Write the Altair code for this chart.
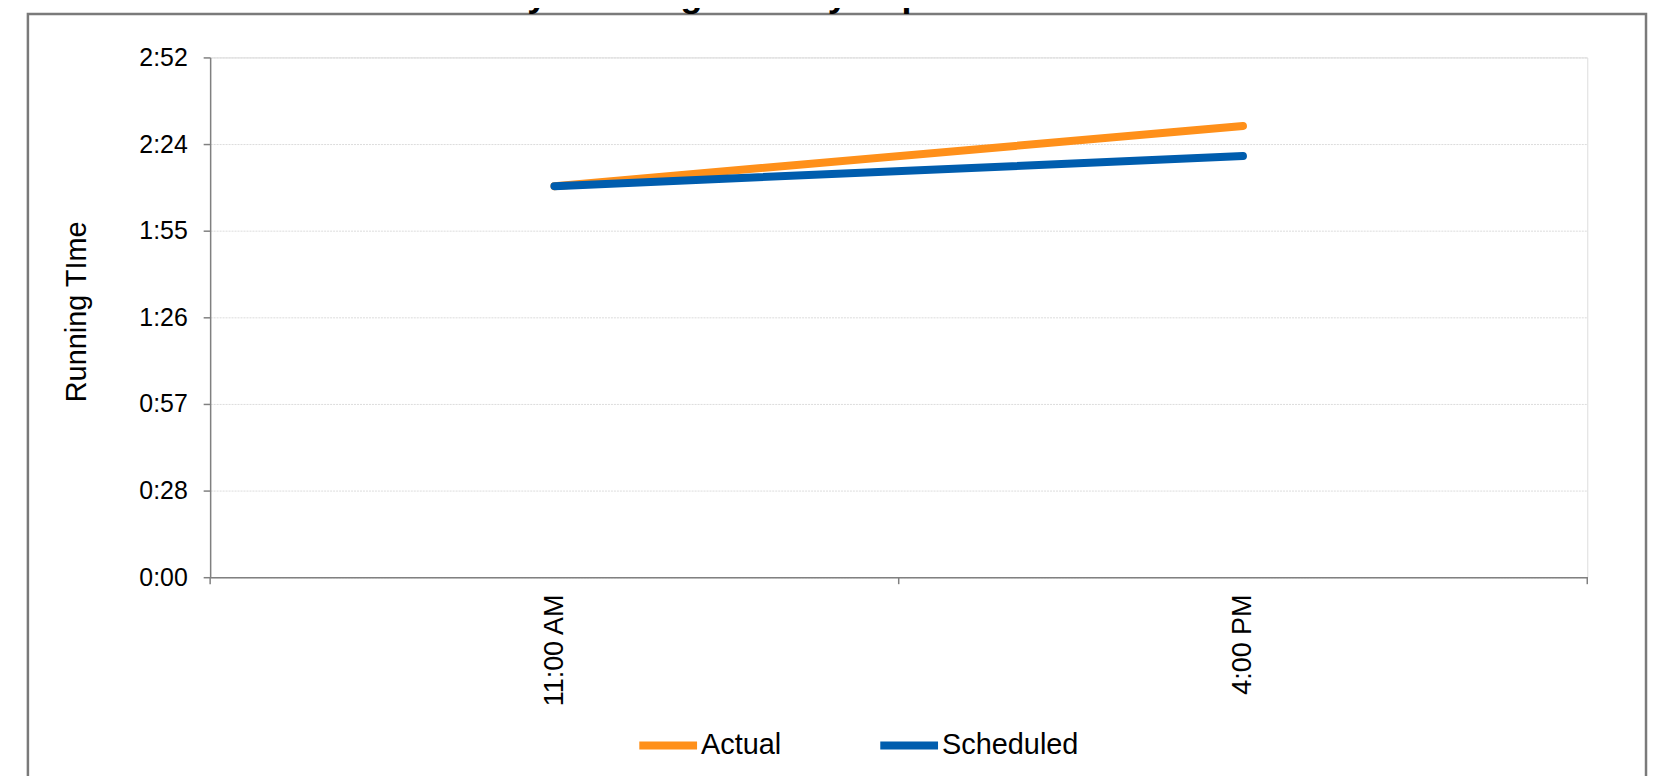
import altair as alt
import pandas as pd

# ---- data (minutes) ----
times = ["11:00 AM", "4:00 PM"]
series_names = ["Actual", "Scheduled"]
actual = [130, 150]
scheduled = [130, 140]
y_ticks = [0, 28.8, 57.6, 86.4, 115.2, 144, 172.8]   # 0.02-day steps
boundaries = [0, 1, 2]
colors = ["#FF901A", "#005DAE"]
title_text = "Saturday Running TIme by Trip - Westbound"

rows = []
for i, t in enumerate(times):
    rows.append({"time": t, "pos": i + 0.5, "series": "Actual", "minutes": actual[i]})
for i, t in enumerate(times):
    rows.append({"time": t, "pos": i + 0.5, "series": "Scheduled", "minutes": scheduled[i]})
df = pd.DataFrame(rows)

W, H = 1383, 522
FONT = "Liberation Sans"

labels_js = "[" + ",".join("'" + t + "'" for t in times) + "]"

x_scale = alt.Scale(domain=[0, len(times)], nice=False, zero=False)
y_scale = alt.Scale(domain=[0, y_ticks[-1]], nice=False, zero=True)

y_label_expr = ("floor(datum.value/60) + ':' + (floor(datum.value%60) < 10 ? '0' : '') "
                "+ floor(datum.value%60)")

x_axis = alt.Axis(values=[i + 0.5 for i in range(len(times))],
                  labelExpr=labels_js + "[floor(datum.value)]",
                  ticks=False, tickSize=0, labelAngle=-90, labelAlign="right",
                  labelBaseline="middle", labelPadding=17, grid=False, title=None,
                  labelFontSize=27, labelFont=FONT, labelColor="#000000",
                  labelOverlap=False,
                  domainColor="#808080", domainWidth=1.5)

border = alt.Chart(pd.DataFrame({"k": [0]})).mark_rect(
    fill="transparent", stroke="#7a7a7a", strokeWidth=2.5
).encode(
    x=alt.value(-183), x2=alt.value(1442),
    y=alt.value(-43.5), y2=alt.value(800),
)

lines = alt.Chart(df).mark_line(strokeWidth=8, strokeCap="round", strokeJoin="round").encode(
    x=alt.X("pos:Q", scale=x_scale, axis=x_axis),
    y=alt.Y("minutes:Q", scale=y_scale,
            axis=alt.Axis(values=y_ticks, labelExpr=y_label_expr, tickSize=7,
                          tickColor="#808080", tickWidth=1.5, labelPadding=16,
                          labelFontSize=25, labelFont=FONT, labelColor="#000000",
                          domainColor="#808080", domainWidth=1.5,
                          grid=True, gridColor="#dcdcdc", gridDash=[2, 1], gridWidth=1,
                          title="Running TIme", titleFont=FONT, titleFontSize=29,
                          titleFontWeight="normal", titleColor="#000000",
                          titleAngle=-90, titleX=-134, titleY=255,
                          titleAlign="center", titleBaseline="middle")),
    color=alt.Color("series:N",
                    scale=alt.Scale(domain=series_names, range=colors),
                    legend=alt.Legend(orient="none", legendX=427, legendY=658,
                                      direction="horizontal", title=None,
                                      symbolType="stroke", symbolSize=3364,
                                      symbolStrokeWidth=8, labelFontSize=29,
                                      labelFont=FONT, labelColor="#000000",
                                      labelOffset=0, columnPadding=83, padding=0)),
    order=alt.Order("series:N"),
)

ticks = alt.Chart(pd.DataFrame({"pos": boundaries})).mark_rule(
    color="#808080", strokeWidth=1.5
).encode(
    x=alt.X("pos:Q", scale=x_scale, axis=x_axis),
    y=alt.value(H), y2=alt.value(H + 7),
)

title = alt.Chart(pd.DataFrame({"t": [title_text]})).mark_text(
    font=FONT, fontSize=36, fontWeight="bold", color="#000000",
    align="center", baseline="alphabetic"
).encode(
    text="t:N", x=alt.value(564), y=alt.value(-51),
)

chart = alt.layer(border, lines, ticks, title).properties(
    width=W, height=H,
    autosize=alt.AutoSizeParams(type="none"),
    padding={"left": 203, "top": 48, "right": 1648 - 203 - W, "bottom": 198},
).configure_view(strokeWidth=0).configure(background="white")

chart.save("out.html", embed_options={"renderer": "svg", "actions": False})
